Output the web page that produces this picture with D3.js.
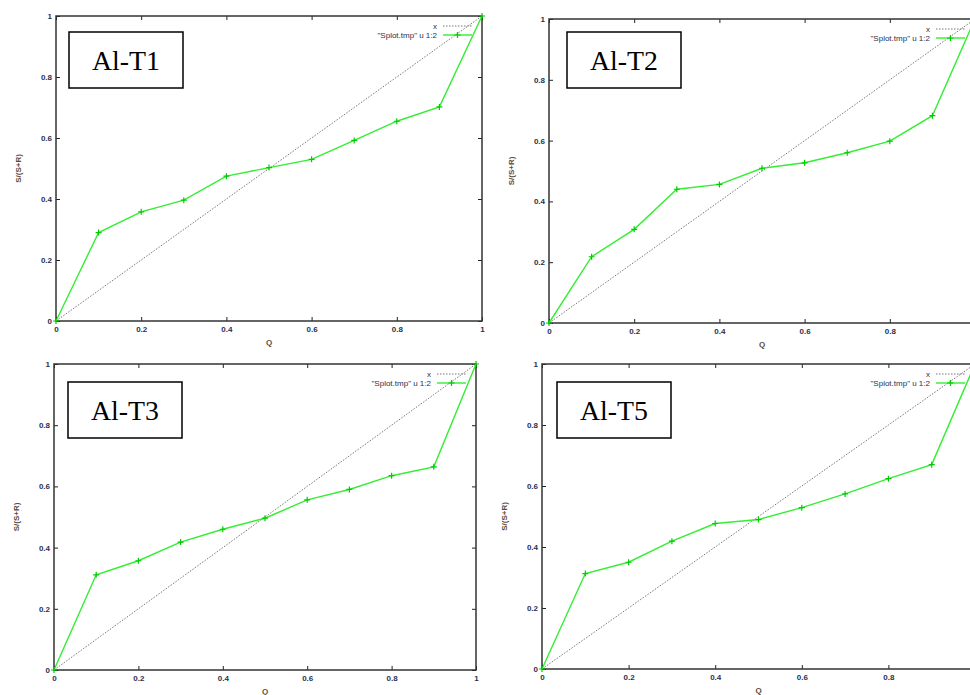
<!DOCTYPE html>
<html lang="en">
    <head>
        <meta charset="utf-8">
        <title>Al-T lorenz panels</title>
        <script type="text/javascript" src="https://d3js.org/d3.v7.min.js"></script>
        <style type="text/css">
            body{ margin: 0; background: #fff; }
            .tick text{ font-family: "Liberation Sans", Arial, sans-serif; font-size: 8px; font-weight: bold; fill: #2a3050; }
            .tick line{ stroke: #222; stroke-width: 1px; }
            .frame{ fill: none; stroke: #333; stroke-width: 1.5px; }
            .diag{ fill: none; stroke: #777; stroke-width: 1px; stroke-dasharray: 1.5,1.5; }
            .curve{ fill: none; stroke: #33ee33; stroke-width: 1.4px; }
            .cross{ stroke: #00cc00; stroke-width: 1.2px; }
            .lab{ font-family: "Liberation Sans", Arial, sans-serif; font-size: 8px; font-weight: bold; fill: #5a4a3a; }
            .leg{ font-family: "Liberation Sans", Arial, sans-serif; font-size: 8px; fill: #2a3050; }
            .name{ font-family: "Liberation Serif", "Times New Roman", Times, serif; font-size: 28px; fill: #000; }
        </style>
    </head>
    <body>
        <svg id="chart" width="970" height="695"></svg>
        <script type="text/javascript">
        //data
        const q = [0, 0.1, 0.2, 0.3, 0.4, 0.5, 0.6, 0.7, 0.8, 0.9, 1];
        const t1 = [0, 0.290, 0.358, 0.396, 0.475, 0.503, 0.530, 0.592, 0.655, 0.702, 1];
        const t2 = [0, 0.218, 0.308, 0.440, 0.456, 0.509, 0.527, 0.560, 0.598, 0.682, 1];
        const t3 = [0, 0.311, 0.357, 0.418, 0.460, 0.496, 0.556, 0.590, 0.635, 0.664, 1];
        const t5 = [0, 0.313, 0.350, 0.419, 0.477, 0.490, 0.529, 0.574, 0.624, 0.670, 1];
        const names = ["Al-T1", "Al-T2", "Al-T3", "Al-T5"];
        const ticks = [0, 0.2, 0.4, 0.6, 0.8, 1];
        const legendLabels = ["x", "\"Splot.tmp\" u 1:2"];

        //panel layout
        const panels = [
            {name: names[0], values: t1, l: 56,  r: 482, t: 16,  b: 321, bx: 69,  by: 32},
            {name: names[1], values: t2, l: 549, r: 975, t: 19,  b: 323, bx: 567, by: 32},
            {name: names[2], values: t3, l: 54,  r: 476, t: 364, b: 670, bx: 68,  by: 382},
            {name: names[3], values: t5, l: 542, r: 975, t: 364, b: 669, bx: 557, by: 382}
        ];
        const W = 970;

        const svg = d3.select("#chart");

        panels.forEach(p => {
            const g = svg.append("g");
            const x = d3.scaleLinear().domain([0, 1]).range([p.l, p.r]);
            const y = d3.scaleLinear().domain([0, 1]).range([p.b, p.t]);

            //axes with inward ticks on all sides
            g.append("g").attr("transform", `translate(0,${p.b})`)
                .call(d3.axisBottom(x).tickValues(ticks).tickSize(-4).tickPadding(5)
                    .tickFormat(d => x(d) + 4 > W ? "" : String(d)))
                .call(a => a.select(".domain").remove());
            g.append("g").attr("transform", `translate(0,${p.t})`)
                .call(d3.axisTop(x).tickValues(ticks).tickSize(-4).tickFormat(""))
                .call(a => a.select(".domain").remove());
            g.append("g").attr("transform", `translate(${p.l},0)`)
                .call(d3.axisLeft(y).tickValues(ticks).tickSize(-4).tickPadding(4).tickFormat(d => String(d)))
                .call(a => a.select(".domain").remove());
            g.append("g").attr("transform", `translate(${p.r},0)`)
                .call(d3.axisRight(y).tickValues(ticks).tickSize(-4).tickFormat(""))
                .call(a => a.select(".domain").remove());
            g.selectAll(".tick text").attr("fill", null);

            g.append("rect").attr("class", "frame")
                .attr("x", p.l).attr("y", p.t)
                .attr("width", p.r - p.l).attr("height", p.b - p.t);

            //axis labels
            g.append("text").attr("class", "lab")
                .attr("x", x(0.5)).attr("y", p.b + 24)
                .attr("text-anchor", "middle").text("Q");
            g.append("text").attr("class", "lab")
                .attr("transform", `translate(${p.l - 35},${(p.t + p.b) / 2}) rotate(-90)`)
                .attr("text-anchor", "middle").text("S/(S+R)");

            //diagonal x
            const line = d3.line().x(d => x(d[0])).y(d => y(d[1]));
            g.append("path").attr("class", "diag").attr("d", line(q.map(v => [v, v])));

            //data curve
            const pts = q.map((v, i) => [v, p.values[i]]);
            g.append("path").attr("class", "curve").attr("d", line(pts));
            g.selectAll(".pt").data(pts).join("path")
                .attr("class", "cross")
                .attr("d", d => `M${x(d[0]) - 3},${y(d[1])}h6M${x(d[0])},${y(d[1]) - 3}v6`);

            //legend
            const lx = p.r - 45, ly1 = p.t + 10, ly2 = p.t + 19;
            g.append("text").attr("class", "leg").attr("x", lx).attr("y", ly1).attr("dy", "0.35em")
                .attr("text-anchor", "end").text(legendLabels[0]);
            g.append("line").attr("class", "diag")
                .attr("x1", lx + 6).attr("x2", p.r - 10).attr("y1", ly1).attr("y2", ly1);
            g.append("text").attr("class", "leg").attr("x", lx).attr("y", ly2).attr("dy", "0.35em")
                .attr("text-anchor", "end").text(legendLabels[1]);
            g.append("line").attr("class", "curve")
                .attr("x1", lx + 6).attr("x2", p.r - 10).attr("y1", ly2).attr("y2", ly2);
            const mx = (lx + 6 + p.r - 10) / 2;
            g.append("path").attr("class", "cross")
                .attr("d", `M${mx - 3},${ly2}h6M${mx},${ly2 - 3}v6`);

            //name box
            g.append("rect").attr("x", p.bx).attr("y", p.by).attr("width", 114).attr("height", 56)
                .attr("fill", "#fff").attr("stroke", "#000").attr("stroke-width", 1.5);
            g.append("text").attr("class", "name")
                .attr("x", p.bx + 57).attr("y", p.by + 38)
                .attr("text-anchor", "middle")
                .attr("textLength", 68).attr("lengthAdjust", "spacingAndGlyphs")
                .text(p.name);
        });
        </script>
    </body>
</html>
